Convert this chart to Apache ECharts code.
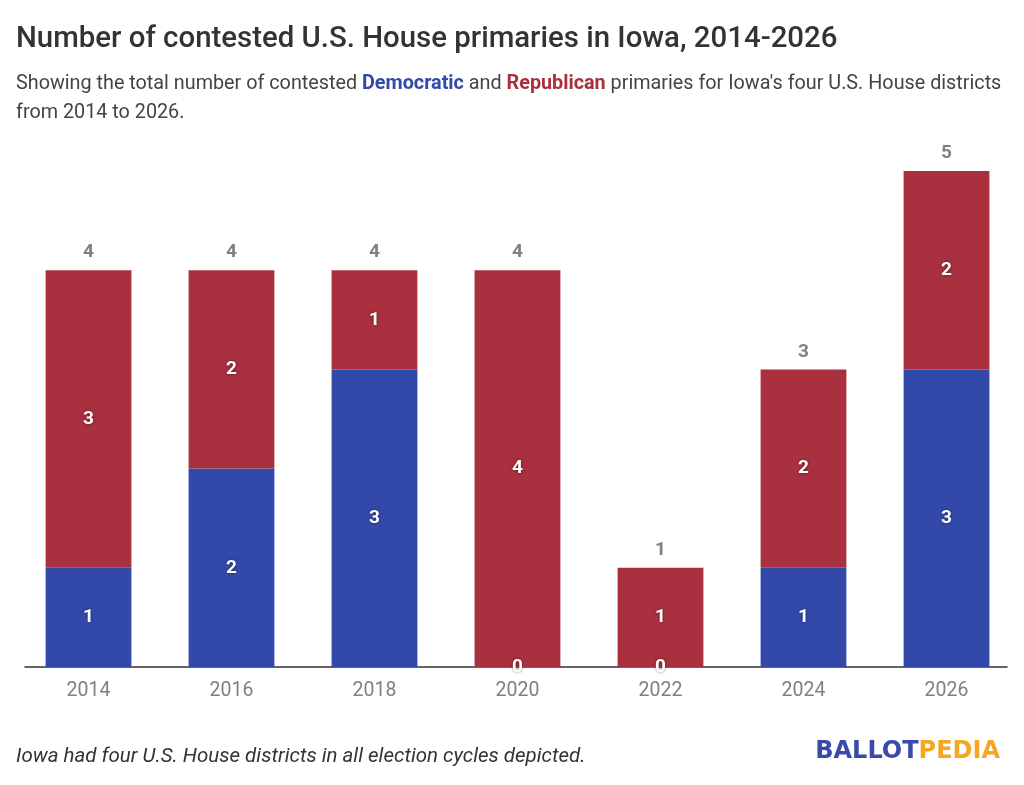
<!DOCTYPE html>
<html>
<head>
<meta charset="utf-8">
<script src="https://cdn.jsdelivr.net/npm/echarts@6/dist/echarts.min.js"></script>
<style>html,body{margin:0;padding:0;background:#fff}#c{width:1024px;height:785px}</style>
</head>
<body>
<div id="c"></div>
<script>
var years = ['2014','2016','2018','2020','2022','2024','2026'];
var democratic = [1, 2, 3, 0, 0, 1, 3];
var republican = [3, 2, 1, 4, 1, 2, 2];
var totals = [4, 4, 4, 4, 1, 3, 5];

var BLUE = '#3349a9', RED = '#a9303f';
var chart = echarts.init(document.getElementById('c'));
var innerLabel = {
  show: true, position: 'inside', color: '#fff', fontFamily: 'Roboto', fontWeight: 'bold', fontSize: 19,
  textShadowColor: 'rgba(0,0,0,0.5)', textShadowBlur: 3
};

chart.setOption({
  animation: false,
  textStyle: {fontFamily: 'Roboto'},
  title: [
    {text: 'Number of contested U.S. House primaries in Iowa, 2014-2026', left: 11, top: 20,
     textStyle: {fontFamily: 'Roboto', fontSize: 29.4, fontWeight: 500, color: '#333'}},
    {text: "Showing the total number of contested {d|Democratic} and {r|Republican} primaries for Iowa's four U.S. House districts\nfrom 2014 to 2026.",
     left: 11, top: 65,
     textStyle: {fontFamily: 'Roboto', fontSize: 19.8, fontWeight: 'normal', color: '#444', lineHeight: 29,
       rich: {d: {fontFamily: 'Roboto', fontSize: 19.8, fontWeight: 'bold', color: BLUE, lineHeight: 29},
              r: {fontFamily: 'Roboto', fontSize: 19.8, fontWeight: 'bold', color: RED, lineHeight: 29}}}},
    {text: 'Iowa had four U.S. House districts in all election cycles depicted.', left: 11, top: 742,
     textStyle: {fontFamily: 'Roboto', fontSize: 20.5, fontStyle: 'italic', fontWeight: 'normal', color: '#333'}},
    {text: '{b|BALLOT}{p|PEDIA}', right: 19, top: 735,
     textStyle: {rich: {b: {fontFamily: 'DejaVu Sans', fontSize: 24, fontWeight: 'bold', color: '#3a4aab'},
                        p: {fontFamily: 'DejaVu Sans', fontSize: 24, fontWeight: 'bold', color: '#f5a623'}}}}
  ],
  grid: [
    {left: 17, width: 1001, top: 171, height: 496, containLabel: false},
    {left: 25, width: 982, top: 171, height: 496, containLabel: false}
  ],
  xAxis: [
    {type: 'category', data: years, gridIndex: 0,
     axisLine: {show: false},
     axisTick: {show: false},
     axisLabel: {color: '#808080', fontSize: 19.5, margin: 14, fontFamily: 'Roboto'}},
    {type: 'value', gridIndex: 1, min: 0, max: 1, position: 'bottom',
     axisLine: {show: true, lineStyle: {color: '#333', width: 1.5}},
     axisTick: {show: false}, axisLabel: {show: false}, splitLine: {show: false}}
  ],
  yAxis: [
    {type: 'value', gridIndex: 0, min: 0, max: 5, show: false, splitLine: {show: false}},
    {type: 'value', gridIndex: 1, min: 0, max: 1, show: false, splitLine: {show: false}}
  ],
  series: [
    {name: 'Democratic', type: 'bar', stack: 's', data: democratic, barWidth: '60%',
     itemStyle: {color: BLUE}, label: innerLabel},
    {name: 'Republican', type: 'bar', stack: 's', data: republican,
     itemStyle: {color: RED}, label: innerLabel},
    {name: 'Total', type: 'bar', stack: 's', data: years.map(function(){return 0;}),
     itemStyle: {color: 'transparent'},
     label: {show: true, position: 'top', distance: 8, color: '#808080', fontWeight: 'bold', fontSize: 19, fontFamily: 'Roboto',
       formatter: function(p){ return totals[p.dataIndex]; }}}
  ]
});
</script>
</body>
</html>
